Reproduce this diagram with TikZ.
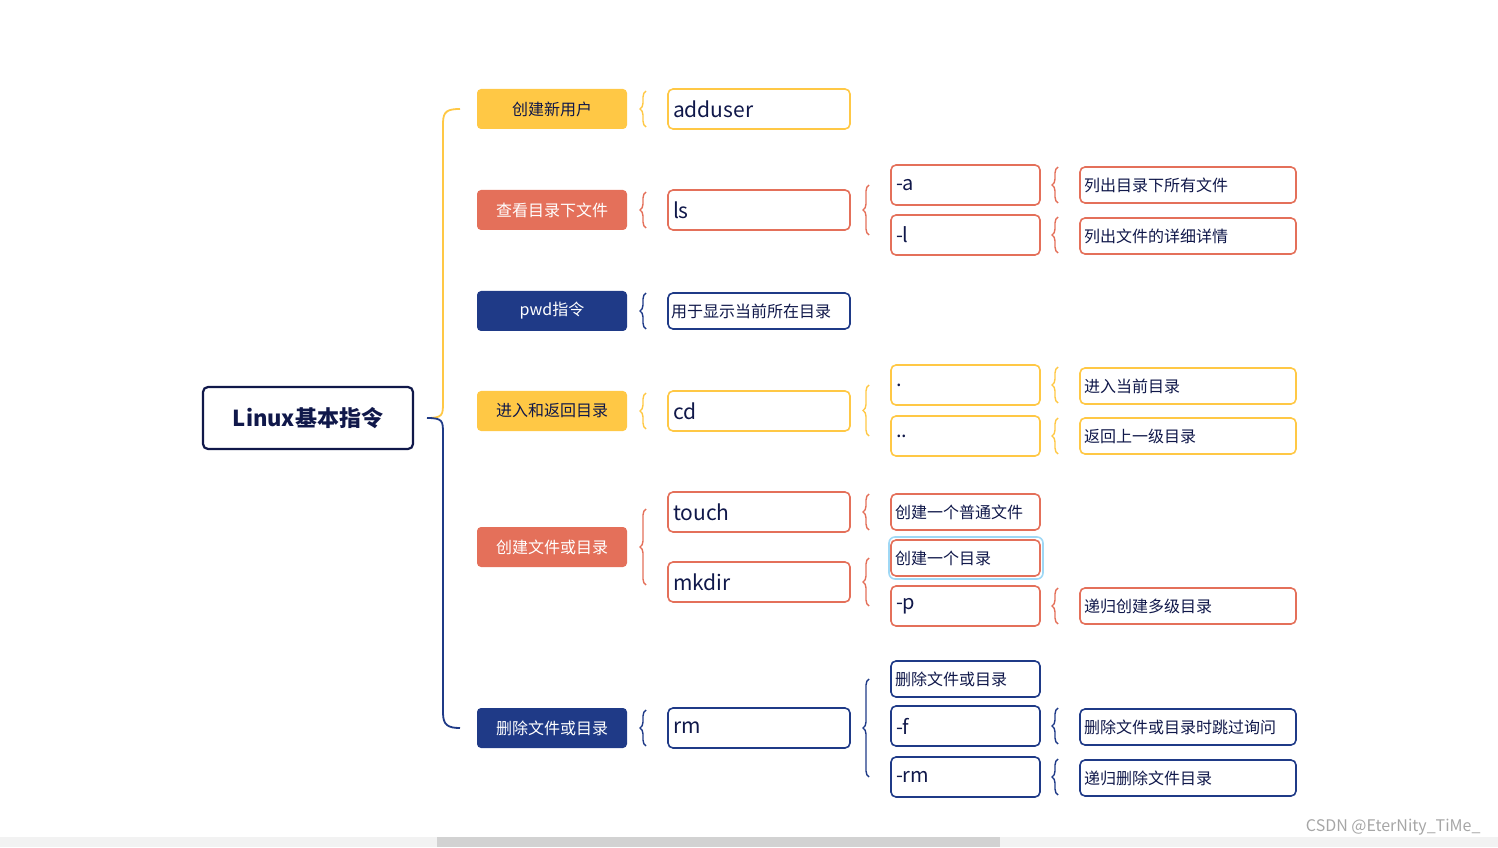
\documentclass[tikz,border=0pt]{standalone}
\usepackage{fontspec}
\setmainfont{Noto Sans CJK SC}
\usetikzlibrary{decorations.pathreplacing}
\definecolor{Y}{HTML}{FFC845}
\definecolor{R}{HTML}{E4705A}
\definecolor{N}{HTML}{1F3A87}
\definecolor{D}{HTML}{10184A}
\definecolor{LB}{HTML}{9FD8F5}
\tikzset{
 l1/.style={rounded corners=4pt,minimum width=150pt,minimum height=40pt,inner sep=0pt,font=\fontsize{16}{16}\selectfont},
 bxb/.style={draw=#1,fill=white,line width=1.6pt,rounded corners=5pt,inner sep=0pt,text=D},
 l2/.style={bxb=#1,minimum width=182pt,minimum height=40pt,text width=172pt,align=left,font=\fontsize{21}{21}\selectfont},
 l2s/.style={bxb=#1,minimum width=182pt,minimum height=36pt,text width=176pt,align=left,font=\fontsize{16}{16}\selectfont},
 l3/.style={bxb=#1,minimum width=149pt,minimum height=40pt,text width=139pt,align=left,font=\fontsize{20}{20}\selectfont},
 l3s/.style={bxb=#1,minimum width=149pt,minimum height=36pt,text width=141pt,align=left,font=\fontsize{16}{16}\selectfont},
 l4/.style={bxb=#1,minimum width=216pt,minimum height=36pt,text width=208pt,align=left,font=\fontsize{16}{16}\selectfont},
 brc/.style={draw=#1,line width=1.4pt,decorate,decoration={brace,amplitude=6pt}},
}
\begin{document}
\begin{tikzpicture}[x=1pt,y=1pt]
\useasboundingbox (0,0) rectangle (1498,847);
\fill[gray!10] (0,0) rectangle (1498,10);
\fill[gray!35] (437,0) rectangle (1000,10);
\node[text=gray!70,font=\fontsize{16}{16}\selectfont,anchor=east] (wm) at (1484,20) {CSDN @EterNity\_TiMe\_};
% root
\node[draw=D,line width=2.2pt,rounded corners=5pt,minimum width=210pt,minimum height=62pt,text=D,font=\fontsize{22}{22}\selectfont\bfseries] (root) at (308,429) {Linux基本指令};
% trunk
\coordinate (t0) at (427,429);
\draw[Y,line width=1.8pt] (t0) .. controls (443,429) and (443,432) .. (443,445) -- (443,724) .. controls (443,736) and (448,738) .. (460,738);
\draw[N,line width=1.8pt] (t0) .. controls (443,429) and (443,426) .. (443,413) -- (443,134) .. controls (443,122) and (448,119) .. (460,119);
% level1
\node[l1,fill=Y,text=D] (a1) at (552,738) {创建新用户};
\node[l1,fill=R,text=white] (a2) at (552,637) {查看目录下文件};
\node[l1,fill=N,text=white] (a3) at (552,536) {pwd指令};
\node[l1,fill=Y,text=D] (a4) at (552,436) {进入和返回目录};
\node[l1,fill=R,text=white] (a5) at (552,300) {创建文件或目录};
\node[l1,fill=N,text=white] (a6) at (552,119) {删除文件或目录};
% level2
\node[l2=Y] (b1) at (759,738) {adduser};
\node[l2=R] (b2) at (759,637) {ls};
\node[l2s=N] (b3) at (759,536) {用于显示当前所在目录};
\node[l2=Y] (b4) at (759,436) {cd};
\node[l2=R] (b5) at (759,335) {touch};
\node[l2=R] (b6) at (759,265) {mkdir};
\node[l2=N] (b7) at (759,119) {rm};
% level3
\node[l3=R] (c1) at (965.5,662) {-a};
\node[l3=R] (c2) at (965.5,612) {-l};
\node[l3=Y] (c3) at (965.5,462) {.};
\node[l3=Y] (c4) at (965.5,411) {..};
\node[l3s=R] (c5) at (965.5,335) {创建一个普通文件};
\draw[LB,line width=1.6pt,rounded corners=6pt] (889,268) rectangle (1043,310);
\node[l3s=R] (c6) at (965.5,289) {创建一个目录};
\node[l3=R] (c7) at (965.5,241) {-p};
\node[l3s=N] (c8) at (965.5,168) {删除文件或目录};
\node[l3=N] (c9) at (965.5,121) {-f};
\node[l3=N] (c10) at (965.5,70) {-rm};
% level4
\node[l4=R] (d1) at (1188,662) {列出目录下所有文件};
\node[l4=R] (d2) at (1188,611) {列出文件的详细详情};
\node[l4=Y] (d3) at (1188,461) {进入当前目录};
\node[l4=Y] (d4) at (1188,411) {返回上一级目录};
\node[l4=R] (d5) at (1188,241) {递归创建多级目录};
\node[l4=N] (d6) at (1188,120) {删除文件或目录时跳过询问};
\node[l4=N] (d7) at (1188,69) {递归删除文件目录};
% braces l1-l2
\draw[brc=Y] (646,720) -- (646,756);
\draw[brc=R] (646,619) -- (646,655);
\draw[brc=N] (646,518) -- (646,554);
\draw[brc=Y] (646,418) -- (646,454);
\draw[brc=R] (646,262) -- (646,338);
\draw[brc=N] (646,101) -- (646,137);
% braces l2-l3
\draw[brc=R] (869,612) -- (869,662);
\draw[brc=Y] (869,411) -- (869,462);
\draw[brc=R] (869,317) -- (869,353);
\draw[brc=R] (869,241) -- (869,289);
\draw[brc=N] (869,70) -- (869,168);
% braces l3-l4
\draw[brc=R] (1058,644) -- (1058,680);
\draw[brc=R] (1058,594) -- (1058,630);
\draw[brc=Y] (1058,444) -- (1058,480);
\draw[brc=Y] (1058,393) -- (1058,429);
\draw[brc=R] (1058,223) -- (1058,259);
\draw[brc=N] (1058,103) -- (1058,139);
\draw[brc=N] (1058,52) -- (1058,88);
\end{tikzpicture}
\end{document}
